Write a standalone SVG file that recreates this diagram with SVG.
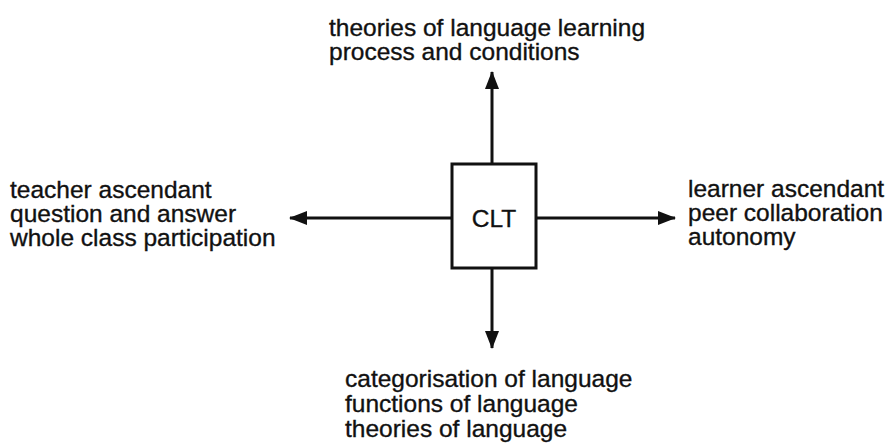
<svg xmlns="http://www.w3.org/2000/svg" width="889" height="445" viewBox="0 0 889 445">
  <style>
    .lbl { font-family: "Liberation Sans", Arial, Helvetica, sans-serif; font-size: 24.5px; fill: #111; stroke: #111; stroke-width: 0.35; }
    .edge { stroke: #111; stroke-width: 3; fill: none; }
    .box { stroke: #111; stroke-width: 3; fill: #fff; }
  </style>
  <defs>
    <marker id="arrow" viewBox="0 0 18 14" refX="17" refY="7" markerWidth="18" markerHeight="14" markerUnits="userSpaceOnUse" orient="auto">
      <path d="M0,0 L18,7 L0,14 Z" fill="#111"/>
    </marker>
  </defs>
  <rect width="889" height="445" fill="#fff"/>

  <g id="connectors">
    <line class="edge" x1="492" y1="164" x2="492" y2="72" marker-end="url(#arrow)"/>
    <line class="edge" x1="492" y1="268" x2="492" y2="348" marker-end="url(#arrow)"/>
    <line class="edge" x1="452" y1="218" x2="290" y2="218" marker-end="url(#arrow)"/>
    <line class="edge" x1="536" y1="218" x2="675" y2="218" marker-end="url(#arrow)"/>
  </g>

  <g id="clt">
    <rect class="box" x="452" y="164" width="84" height="104"/>
    <text class="lbl" x="494" y="227" text-anchor="middle">CLT</text>
  </g>

  <g id="top">
    <text class="lbl" x="329" y="36">theories of language learning</text>
    <text class="lbl" x="329" y="60">process and conditions</text>
  </g>

  <g id="left">
    <text class="lbl" x="10" y="198">teacher ascendant</text>
    <text class="lbl" x="10" y="222">question and answer</text>
    <text class="lbl" x="10" y="246">whole class participation</text>
  </g>

  <g id="right">
    <text class="lbl" x="688" y="197">learner ascendant</text>
    <text class="lbl" x="688" y="221">peer collaboration</text>
    <text class="lbl" x="688" y="245">autonomy</text>
  </g>

  <g id="bottom">
    <text class="lbl" x="345" y="387">categorisation of language</text>
    <text class="lbl" x="345" y="412">functions of language</text>
    <text class="lbl" x="345" y="437">theories of language</text>
  </g>
</svg>
